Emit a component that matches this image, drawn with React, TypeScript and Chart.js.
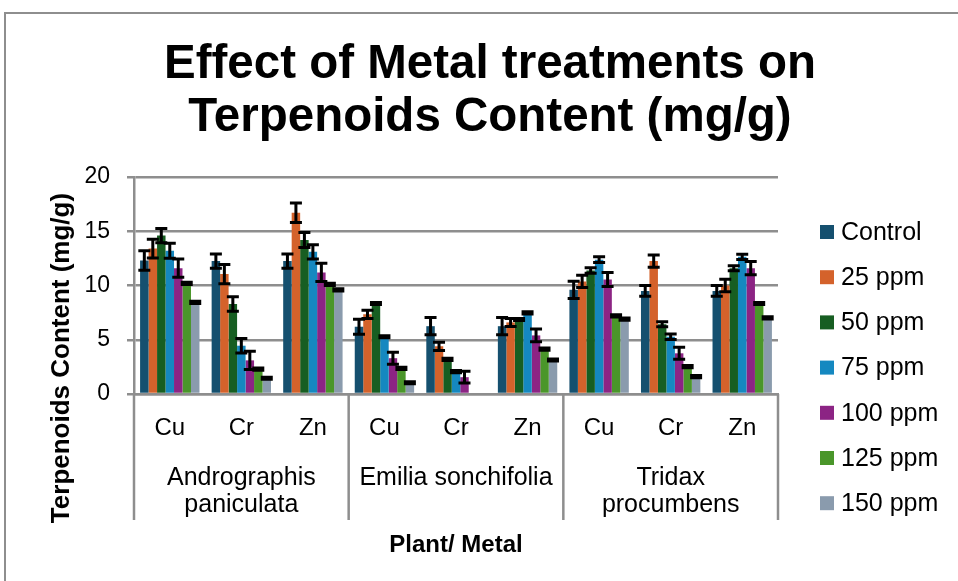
import React, { useEffect, useRef } from 'react';
import { Chart, registerables } from 'chart.js';

Chart.register(...registerables);

const FONT = '"Liberation Sans", Arial, sans-serif';
const GRID = '#8e8e8e';

const metals = ['Cu', 'Cr', 'Zn', 'Cu', 'Cr', 'Zn', 'Cu', 'Cr', 'Zn'];
const plants = [['Andrographis', 'paniculata'], ['Emilia sonchifolia'], ['Tridax', 'procumbens']];
const seriesNames = ['Control', '25 ppm', '50 ppm', '75 ppm', '100 ppm', '125 ppm', '150 ppm'];
const seriesColors = ['#15506F', '#D4622B', '#175E22', '#1588C0', '#8C2484', '#4A962A', '#8A9BAD'];
const yTicks = [0, 5, 10, 15, 20];

const control = [12.3, 12.25, 12.25, 6.2, 6.25, 6.25, 9.6, 9.5, 9.5];
const controlErr = [0.9, 0.65, 0.65, 0.7, 0.8, 0.8, 0.8, 0.5, 0.5];
const ppm25 = [13.4, 11.05, 16.7, 7.35, 4.4, 6.6, 10.38, 12.25, 10.0];
const ppm25Err = [0.87, 0.89, 0.9, 0.38, 0.38, 0.37, 0.57, 0.57, 0.57];
const ppm50 = [14.6, 8.3, 14.2, 8.34, 3.19, 6.87, 11.38, 6.43, 11.58];
const ppm50Err = [0.66, 0.67, 0.69, 0.1, 0.1, 0.1, 0.25, 0.23, 0.23];
const ppm75 = [13.2, 4.45, 13.1, 5.28, 2.06, 7.48, 12.38, 5.28, 12.64];
const ppm75Err = [0.69, 0.66, 0.66, 0.1, 0.1, 0.1, 0.26, 0.25, 0.25];
const ppm100 = [11.6, 3.1, 11.2, 3.3, 1.55, 5.4, 10.55, 3.75, 11.6];
const ppm100Err = [0.84, 0.84, 0.84, 0.55, 0.54, 0.58, 0.64, 0.55, 0.61];
const ppm125 = [10.2, 2.3, 10.1, 2.36, 0, 4.14, 7.2, 2.52, 8.34];
const ppm125Err = [0.1, 0.1, 0.1, 0.1, 0, 0.1, 0.1, 0.1, 0.1];
const ppm150 = [8.45, 1.45, 9.6, 1.04, 0, 3.13, 6.9, 1.6, 7.02];
const ppm150Err = [0.1, 0.1, 0.1, 0.1, 0, 0.1, 0.1, 0.1, 0.1];

const seriesValues = [control, ppm25, ppm50, ppm75, ppm100, ppm125, ppm150];
const seriesErrors = [controlErr, ppm25Err, ppm50Err, ppm75Err, ppm100Err, ppm125Err, ppm150Err];

const titleLines = ['Effect of Metal treatments on', 'Terpenoids Content (mg/g)'];
const yTitle = 'Terpenoids Content (mg/g)';
const xTitle = 'Plant/ Metal';

const decorPlugin = {
  id: 'decor',
  beforeDraw(chart: any) {
    const ctx = chart.ctx;
    ctx.save();
    ctx.fillStyle = '#ffffff';
    ctx.fillRect(0, 0, chart.width, chart.height);
    ctx.strokeStyle = GRID;
    ctx.lineWidth = 2;
    ctx.strokeRect(5, 13, 1200, 1200);
    ctx.restore();
  },
  afterDatasetsDraw(chart: any) {
    const ctx = chart.ctx;
    const yScale = chart.scales.y;
    ctx.save();
    ctx.strokeStyle = '#000000';
    ctx.lineWidth = 3;
    chart.data.datasets.forEach((ds: any, d: number) => {
      const meta = chart.getDatasetMeta(d);
      const errs = seriesErrors[d];
      meta.data.forEach((el: any, i: number) => {
        const e = errs[i];
        if (!e) return;
        const v = ds.data[i];
        const x = el.x;
        const yHi = yScale.getPixelForValue(v + e);
        const yLo = yScale.getPixelForValue(Math.max(0, v - e));
        const cw = 6;
        ctx.beginPath();
        ctx.moveTo(x, yHi);
        ctx.lineTo(x, yLo);
        ctx.moveTo(x - cw, yHi);
        ctx.lineTo(x + cw, yHi);
        ctx.moveTo(x - cw, yLo);
        ctx.lineTo(x + cw, yLo);
        ctx.stroke();
      });
    });
    ctx.restore();
  },
  afterDraw(chart: any) {
    const ctx = chart.ctx;
    const area = chart.chartArea;
    const xScale = chart.scales.x;
    ctx.save();
    // Title
    ctx.fillStyle = '#000000';
    ctx.textAlign = 'center';
    ctx.textBaseline = 'alphabetic';
    ctx.font = `bold 47.5px ${FONT}`;
    ctx.fillText(titleLines[0], 490, 78);
    ctx.fillText(titleLines[1], 490, 131);

    // Group separators
    const px = (i: number) => xScale.getPixelForTick(i);
    const bounds = [xScale.left, (px(2) + px(3)) / 2, (px(5) + px(6)) / 2, xScale.right];
    ctx.strokeStyle = GRID;
    ctx.lineWidth = 2.5;
    bounds.forEach((b) => {
      ctx.beginPath();
      ctx.moveTo(b, area.bottom);
      ctx.lineTo(b, 520);
      ctx.stroke();
    });

    // Plant labels
    ctx.fillStyle = '#000000';
    ctx.font = `25px ${FONT}`;
    plants.forEach((lines, g) => {
      const cx = (bounds[g] + bounds[g + 1]) / 2;
      lines.forEach((t, k) => ctx.fillText(t, cx, 485 + k * 27));
    });

    // X title
    ctx.font = `bold 24px ${FONT}`;
    ctx.fillText(xTitle, (area.left + area.right) / 2, 552);

    // Y title
    ctx.save();
    ctx.translate(62, 358);
    ctx.rotate(-Math.PI / 2);
    ctx.textBaseline = 'middle';
    ctx.font = `bold 26px ${FONT}`;
    ctx.fillText(yTitle, 0, 0);
    ctx.restore();

    // Legend
    ctx.textAlign = 'left';
    ctx.textBaseline = 'middle';
    ctx.font = `25px ${FONT}`;
    chart.data.datasets.forEach((ds: any, d: number) => {
      const cy = 232 + d * 45.2;
      ctx.fillStyle = ds.backgroundColor;
      ctx.fillRect(820, cy - 7, 14, 14);
      ctx.fillStyle = '#000000';
      ctx.fillText(ds.label, 841, cy + 1);
    });
    ctx.restore();
  },
};

export default function App() {
  const canvasRef = useRef<HTMLCanvasElement | null>(null);

  useEffect(() => {
    const canvas = canvasRef.current;
    if (!canvas) return;
    const chart = new Chart(canvas, {
      type: 'bar',
      data: {
        labels: metals,
        datasets: seriesNames.map((name, d) => ({
          label: name,
          data: seriesValues[d],
          backgroundColor: seriesColors[d],
          borderWidth: 0,
          categoryPercentage: 0.83,
          barPercentage: 1.0,
        })),
      },
      options: {
        responsive: false,
        maintainAspectRatio: false,
        animation: false,
        devicePixelRatio: 1,
        layout: { padding: { left: 0, top: 177, right: 180, bottom: 0 } },
        plugins: {
          legend: { display: false },
          title: { display: false },
          tooltip: { enabled: false },
        },
        scales: {
          x: {
            type: 'category',
            offset: true,
            grid: { display: false, drawTicks: false },
            border: { display: true, color: GRID, width: 2.5 },
            ticks: {
              color: '#000000',
              font: { family: FONT, size: 24 },
              padding: 20,
              maxRotation: 0,
              autoSkip: false,
            },
            afterFit: (scale: any) => {
              scale.height = 187;
            },
          },
          y: {
            min: 0,
            max: 20,
            afterBuildTicks: (scale: any) => {
              scale.ticks = yTicks.map((v) => ({ value: v }));
            },
            grid: { color: GRID, lineWidth: 2.5, tickLength: 7, drawTicks: true },
            border: { display: true, color: GRID, width: 2.5 },
            ticks: {
              color: '#000000',
              font: { family: FONT, size: 23 },
              padding: 17,
            },
            afterFit: (scale: any) => {
              scale.width = 134;
            },
          },
        },
      },
      plugins: [decorPlugin],
    });
    return () => chart.destroy();
  }, []);

  return (
    <div style={{ position: 'fixed', left: 0, top: 0, width: 958, height: 581, background: '#fff' }}>
      <canvas ref={canvasRef} width={958} height={581} style={{ display: 'block', width: 958, height: 581 }} />
    </div>
  );
}
